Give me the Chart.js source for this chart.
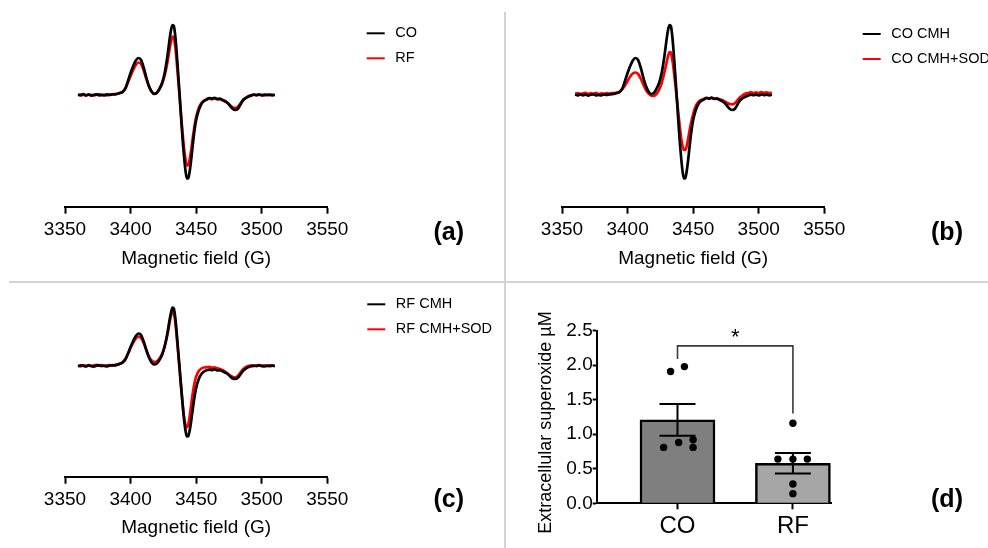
<!DOCTYPE html>
<html>
<head>
<meta charset="utf-8">
<title>EPR spectra and extracellular superoxide</title>
<script src="https://cdn.jsdelivr.net/npm/chart.js@4.4.1/dist/chart.umd.min.js"></script>
<style>
  html, body { margin: 0; padding: 0; background: #fff; }
  body { width: 988px; height: 548px; position: relative; overflow: hidden;
         font-family: "Liberation Sans", Arial, sans-serif; }
  canvas { position: absolute; }
  .rule-v { position: absolute; left: 504px; top: 12px; width: 2px; height: 536px; background: #d3d3d3; }
  .rule-h { position: absolute; left: 9px; top: 281px; width: 979px; height: 2px; background: #d3d3d3; }
  .tag { position: absolute; font-weight: bold; font-size: 25px; line-height: 1; color: #000;
         transform: translate(-50%, -50%); white-space: nowrap; }
</style>
</head>
<body>
<canvas id="panelA" width="505" height="282" style="left:0;top:0"></canvas>
<canvas id="panelB" width="483" height="282" style="left:505px;top:0"></canvas>
<canvas id="panelC" width="505" height="266" style="left:0;top:282px"></canvas>
<canvas id="panelD" width="483" height="266" style="left:505px;top:282px"></canvas>
<div class="rule-v"></div>
<div class="rule-h"></div>
<div class="tag" style="left:448.7px;top:230.5px">(a)</div>
<div class="tag" style="left:947px;top:230.5px">(b)</div>
<div class="tag" style="left:448.7px;top:498px">(c)</div>
<div class="tag" style="left:947px;top:498px">(d)</div>

<script>
// ---- Spectra: magnetic field (G) and signal intensity (a.u.) ----
const fieldG = [
  3360, 3362, 3364, 3366, 3368, 3370, 3372, 3374, 3376, 3378,
  3380, 3382, 3384, 3386, 3388, 3390, 3392, 3394, 3396, 3398,
  3400, 3402, 3404, 3406, 3408, 3410, 3412, 3414, 3416, 3418,
  3420, 3422, 3424, 3426, 3428,
  3429, 3430, 3431, 3432, 3433, 3434, 3435, 3436, 3437, 3438,
  3439, 3440, 3441, 3442, 3443, 3444, 3445, 3446, 3447, 3448,
  3449, 3450,
  3452, 3454, 3456, 3458, 3460, 3462, 3464, 3466, 3468, 3470,
  3472, 3474, 3476, 3478, 3480, 3482, 3484, 3486, 3488, 3490,
  3492, 3494, 3496, 3498, 3500, 3502, 3504, 3506, 3508, 3510
];

// CO (same recording as CO CMH)
const coSignal = [
  0.5, -0.5, 0.8, -0.3, 0.4, -0.6, 0.3, 0.7, -0.4, 0.2,
  -0.5, 0.6, 0.1, 0.5, 0.8, 1.2, 2.0, 3, 6.5, 14,
  22, 29, 34.5, 37, 35, 27.5, 17.5, 9, 3.5, 1,
  2, 6, 12, 22, 38,
  48, 58, 66, 70, 69, 60, 45, 27, 8, -12,
  -32, -50, -65, -77, -83.5, -83, -77, -67, -55, -43,
  -33, -25,
  -15, -9, -6, -4.5, -3.0, -3.6, -2.8, -3.9, -3.6, -4.8,
  -6, -8, -11, -14, -15, -13.5, -9, -5, -3, -1.5,
  -0.5, 0.3, -0.2, 0.4, -0.3, 0.5, -0.2, 0.3, -0.4, 0.2
];

// RF (same recording as RF CMH)
const rfSignal = [
  -0.4, 0.6, 0.2, -0.5, 0.7, 0.1, -0.6, 0.4, 0.8, -0.2,
  0.5, -0.4, 0.3, 0.9, 0.6, 1.3, 2.2, 3.5, 6.5, 12.5,
  19, 25, 30, 32.5, 31, 24.5, 16, 8.5, 3.5, 1.5,
  2.5, 6, 11, 19.5, 32,
  40, 48, 54.5, 58.5, 57.5, 49, 36, 20, 4, -12,
  -28, -43, -56, -65.5, -70.5, -70, -65, -57, -47, -37.5,
  -29, -22,
  -13, -8, -5.5, -4.2, -3.6, -4.1, -3.3, -4.4, -4.2, -5.2,
  -6.5, -8, -10.5, -12.5, -13, -11.5, -8, -4.5, -2.5, -1,
  -0.3, 0.5, -0.1, 0.6, 0.1, -0.4, 0.5, -0.2, 0.4, -0.3
];

// CO CMH + SOD
const coSodSignal = [
  1.2, 2.0, 0.8, 1.6, 2.2, 1.0, 1.8, 1.3, 2.1, 0.9,
  1.7, 1.2, 2.0, 1.4, 1.8, 2.0, 2.5, 3.5, 6, 9.5,
  14, 18.5, 21.5, 22.5, 21, 16.5, 10.5, 5, 1.5, -0.5,
  -1, 1, 5, 12, 22,
  28, 34, 39.5, 43, 42.5, 36.5, 27, 15.5, 3.5, -9,
  -22, -34, -44.5, -51.5, -55, -55, -51.5, -45, -37.5, -30.5,
  -24.5, -19,
  -11, -7, -5, -4.3, -2.8, -3.4, -2.6, -3.7, -3.3, -4.2,
  -5, -6.5, -8, -9, -9.3, -8, -5, -2, 0, 1.5,
  2, 2.8, 1.8, 2.6, 2.0, 3.0, 2.2, 2.7, 1.9, 2.5
];

// RF CMH + SOD
const rfSodSignal = [
  0.8, -0.3, 1.0, 0.2, 0.9, -0.2, 0.6, 1.1, 0.3, 0.8,
  -0.1, 0.7, 1.0, 0.4, 1.2, 1.6, 2.4, 4, 7, 12,
  18, 23.5, 27.5, 29.3, 28, 23, 16, 9.5, 5.5, 4,
  4.5, 7.5, 12, 20, 31,
  38, 45, 51, 54.3, 53, 45, 32, 17, 2, -13,
  -28, -42, -53, -59.5, -61.3, -58.5, -51, -41, -31, -22.5,
  -15.5, -10.5,
  -5, -2.5, -1.5, -1.2, -0.8, -1.7, -1.4, -2.4, -3, -4,
  -5.5, -7.5, -9.5, -11, -11.3, -9.5, -6, -3, -1, 0,
  0.6, -0.2, 0.5, 0.9, 0.1, 0.6, -0.1, 0.7, 0.3, 0.5
];

const fieldTicks = [3350, 3400, 3450, 3500, 3550];

// ---- Extracellular superoxide (µM) ----
const groups = ['CO', 'RF'];
const groupMeans = [1.21, 0.58];
const groupSem = [0.23, 0.15];
const coPoints = [1.91, 1.98, 0.81, 0.88, 0.92, 0.81];
const rfPoints = [1.16, 0.64, 0.64, 0.64, 0.28, 0.14];
const coSpread = [-0.06, 0.06, -0.12, 0.01, 0.135, 0.135];
const rfSpread = [0, -0.13, 0, 0.125, 0, 0];
const bracket = { top: 2.28, leftEnd: 2.09, rightEnd: 1.30, mark: '*' };

const FONT = '"Liberation Sans", Arial, sans-serif';
Chart.defaults.font.family = FONT;
Chart.defaults.color = '#000';

// Short line + name legend drawn at a fixed spot of each spectrum panel
const lineLegend = {
  id: 'lineLegend',
  afterDraw(chart, args, o) {
    const ctx = chart.ctx;
    ctx.save();
    ctx.font = '14.5px ' + FONT;
    ctx.textBaseline = 'middle';
    ctx.textAlign = 'left';
    chart.data.datasets.forEach((ds, i) => {
      const y = o.y + i * o.gap;
      ctx.strokeStyle = ds.borderColor;
      ctx.lineWidth = 2;
      ctx.beginPath();
      ctx.moveTo(o.x, y);
      ctx.lineTo(o.x + 18, y);
      ctx.stroke();
      ctx.fillStyle = '#000';
      ctx.fillText(ds.label, o.x + 28.5, y);
    });
    ctx.restore();
  }
};

function spectrum(canvasId, series, frame) {
  return new Chart(document.getElementById(canvasId), {
    type: 'line',
    data: {
      datasets: series.map(s => ({
        label: s.label,
        data: fieldG.map((g, i) => ({ x: g, y: s.values[i] })),
        borderColor: s.color,
        borderWidth: 2.7,
        pointRadius: 0,
        cubicInterpolationMode: 'monotone',
        fill: false
      }))
    },
    options: {
      responsive: false,
      animation: false,
      events: [],
      layout: { padding: { left: frame.left, right: frame.right, top: frame.top, bottom: 0 } },
      plugins: {
        legend: { display: false },
        tooltip: { enabled: false },
        lineLegend: { x: frame.legendX, y: frame.legendY, gap: 25 }
      },
      scales: {
        x: {
          type: 'linear',
          min: fieldTicks[0],
          max: fieldTicks[fieldTicks.length - 1],
          afterBuildTicks(s) { s.ticks = fieldTicks.map(v => ({ value: v })); },
          afterFit(s) { s.height = frame.axisHeight; },
          ticks: { callback: v => String(v), font: { size: 19 }, color: '#000', padding: 4.5, maxRotation: 0 },
          grid: { drawOnChartArea: false, tickLength: 7, tickWidth: 2, tickColor: '#000' },
          border: { color: '#000', width: 2 },
          title: { display: true, text: 'Magnetic field (G)', font: { size: 19 }, color: '#000',
                   padding: { top: 0, bottom: frame.titlePad } }
        },
        y: { display: false, min: frame.yMin, max: frame.yMax }
      }
    },
    plugins: [lineLegend]
  });
}

spectrum('panelA', [
  { label: 'CO', values: coSignal, color: '#000000' },
  { label: 'RF', values: rfSignal, color: '#ff0000' }
], { left: 65, right: 177.7, top: 10, yMin: -111.7, yMax: 85, axisHeight: 75.3, titlePad: 12,
     legendX: 366.7, legendY: 33.3 });

spectrum('panelB', [
  { label: 'CO CMH', values: coSignal, color: '#000000' },
  { label: 'CO CMH+SOD', values: coSodSignal, color: '#ff0000' }
], { left: 57, right: 163.7, top: 10, yMin: -111.7, yMax: 85, axisHeight: 75.3, titlePad: 12,
     legendX: 357.7, legendY: 34 });

spectrum('panelC', [
  { label: 'RF CMH', values: rfSignal, color: '#000000' },
  { label: 'RF CMH+SOD', values: rfSodSignal, color: '#ff0000' }
], { left: 65, right: 177.7, top: 10, yMin: -110.7, yMax: 74, axisHeight: 71.3, titlePad: 8.6,
     legendX: 367.3, legendY: 22.3 });

// Mean ± SEM whiskers, drawn right after the bars so the dots sit on top
const errorBars = {
  id: 'errorBars',
  afterDatasetDraw(chart, args, o) {
    if (chart.data.datasets[args.index].type !== 'bar') return;
    const { ctx, scales: { x, y } } = chart;
    ctx.save();
    ctx.strokeStyle = '#000';
    ctx.lineWidth = 2;
    groupMeans.forEach((m, i) => {
      const px = x.getPixelForValue(i + 1);
      const top = y.getPixelForValue(m + groupSem[i]);
      const bot = y.getPixelForValue(m - groupSem[i]);
      ctx.beginPath();
      ctx.moveTo(px, top); ctx.lineTo(px, bot);
      ctx.moveTo(px - o.cap, top); ctx.lineTo(px + o.cap, top);
      ctx.moveTo(px - o.cap, bot); ctx.lineTo(px + o.cap, bot);
      ctx.stroke();
    });
    ctx.restore();
  }
};

// Significance bracket between the two groups
const sigBracket = {
  id: 'sigBracket',
  afterDatasetsDraw(chart) {
    const { ctx, scales: { x, y } } = chart;
    const x1 = x.getPixelForValue(1), x2 = x.getPixelForValue(2);
    const yt = y.getPixelForValue(bracket.top);
    ctx.save();
    ctx.strokeStyle = '#3a3a3a';
    ctx.lineWidth = 1.6;
    ctx.beginPath();
    ctx.moveTo(x1, y.getPixelForValue(bracket.leftEnd));
    ctx.lineTo(x1, yt);
    ctx.lineTo(x2, yt);
    ctx.lineTo(x2, y.getPixelForValue(bracket.rightEnd));
    ctx.stroke();
    ctx.fillStyle = '#000';
    ctx.font = '22px ' + FONT;
    ctx.textAlign = 'center';
    ctx.textBaseline = 'alphabetic';
    ctx.fillText(bracket.mark, (x1 + x2) / 2, yt - 2);
    ctx.restore();
  }
};

// Rotated y-axis caption of the bar panel
const yCaption = {
  id: 'yCaption',
  afterDraw(chart, args, o) {
    const ctx = chart.ctx;
    ctx.save();
    ctx.translate(o.x, o.y);
    ctx.rotate(-Math.PI / 2);
    ctx.font = '18px ' + FONT;
    ctx.fillStyle = '#000';
    ctx.textAlign = 'center';
    ctx.textBaseline = 'middle';
    ctx.fillText(o.text, 0, 0);
    ctx.restore();
  }
};

const dots = [];
coPoints.forEach((v, i) => dots.push({ x: 1 + coSpread[i], y: v }));
rfPoints.forEach((v, i) => dots.push({ x: 2 + rfSpread[i], y: v }));

new Chart(document.getElementById('panelD'), {
  type: 'bar',
  data: {
    datasets: [
      {
        type: 'scatter',
        data: dots,
        pointRadius: 3.7,
        backgroundColor: '#000',
        borderColor: '#000',
        borderWidth: 0,
        order: 0
      },
      {
        type: 'bar',
        data: groupMeans.map((m, i) => ({ x: i + 1, y: m })),
        backgroundColor: ['#7f7f7f', '#a6a6a6'],
        borderColor: '#000',
        borderWidth: 2.5,
        barThickness: 75,
        order: 1
      }
    ]
  },
  options: {
    responsive: false,
    animation: false,
    events: [],
    layout: { padding: { left: 0, right: 157, top: 48.7, bottom: 0 } },
    plugins: {
      legend: { display: false },
      tooltip: { enabled: false },
      errorBars: { cap: 18 },
      yCaption: { x: 41.5, y: 140.5, text: 'Extracellular superoxide µM' }
    },
    scales: {
      x: {
        type: 'linear',
        min: 0.3,
        max: 2.33,
        offset: false,
        afterBuildTicks(s) { s.ticks = groups.map((g, i) => ({ value: i + 1 })); },
        afterFit(s) { s.height = 44.7; },
        ticks: { callback: v => groups[v - 1], font: { size: 24 }, color: '#000', padding: 3, maxRotation: 0 },
        grid: { offset: false, drawOnChartArea: false, tickLength: 6, tickWidth: 2, tickColor: '#000' },
        border: { color: '#000', width: 2 }
      },
      y: {
        min: 0,
        max: 2.5,
        afterFit(s) { s.width = 91.7; },
        ticks: { stepSize: 0.5, callback: v => v.toFixed(1), font: { size: 19 }, color: '#000', padding: 0 },
        grid: { drawOnChartArea: false, tickLength: 4, tickWidth: 2, tickColor: '#000' },
        border: { color: '#000', width: 2 }
      }
    }
  },
  plugins: [errorBars, sigBracket, yCaption]
});
</script>
</body>
</html>
